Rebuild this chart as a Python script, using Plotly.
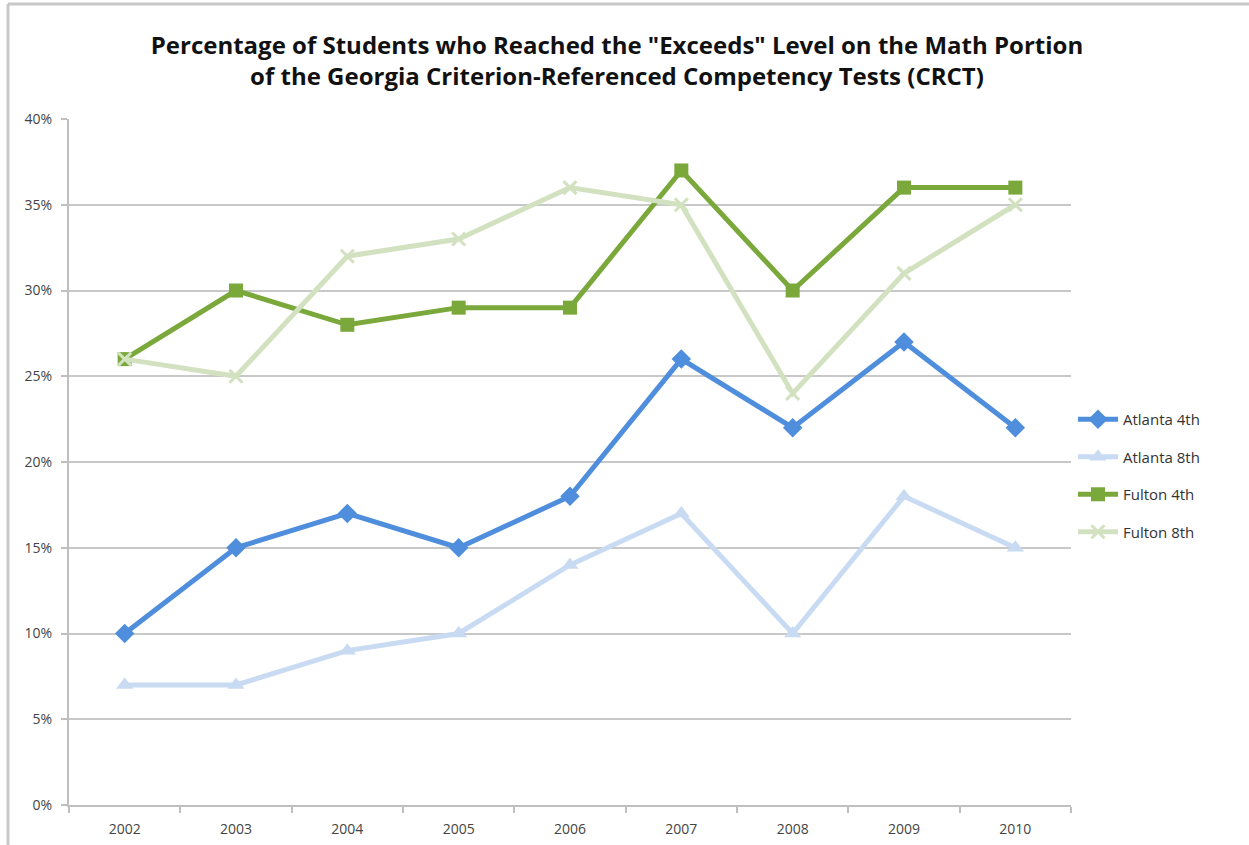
import plotly.graph_objects as go

years = ["2002", "2003", "2004", "2005", "2006", "2007", "2008", "2009", "2010"]
atlanta_4th = [0.10, 0.15, 0.17, 0.15, 0.18, 0.26, 0.22, 0.27, 0.22]
atlanta_8th = [0.07, 0.07, 0.09, 0.10, 0.14, 0.17, 0.10, 0.18, 0.15]
fulton_4th = [0.26, 0.30, 0.28, 0.29, 0.29, 0.37, 0.30, 0.36, 0.36]
fulton_8th = [0.26, 0.25, 0.32, 0.33, 0.36, 0.35, 0.24, 0.31, 0.35]

series = [
    ("Atlanta 4th", atlanta_4th, "#4f8edc", "diamond", 15),
    ("Atlanta 8th", atlanta_8th, "#c8dbf2", "triangle-up", 15),
    ("Fulton 4th", fulton_4th, "#7aa83b", "square", 14),
    ("Fulton 8th", fulton_8th, "#d2e1bf", "x-thin-open", 13),
]

fig = go.Figure()
for name, vals, color, sym, size in series:
    fig.add_trace(go.Scatter(
        x=years, y=vals, name=name, mode="lines+markers",
        line=dict(color=color, width=5),
        marker=dict(symbol=sym, size=size, color=color,
                    line=dict(color=color, width=3 if "x" in sym else 0)),
        legendgroup=name,
    ))

fig.update_layout(
    width=1249, height=845,
    paper_bgcolor="white", plot_bgcolor="white",
    margin=dict(l=69, r=178, t=119, b=40, autoexpand=False),
    title=dict(
        text="Percentage of Students who Reached the \"Exceeds\" Level on the Math Portion<br>of the Georgia Criterion-Referenced Competency Tests (CRCT)",
        x=0.494, xanchor="center", y=0.936, yanchor="top",
        font=dict(family="Open Sans", size=24, color="#111111", weight="bold"),
    ),
    font=dict(family="Open Sans", size=14, color="#444444"),
    legend=dict(
        x=1.002, xanchor="left", y=0.586, yanchor="top",
        font=dict(family="Open Sans", size=15, color="#333333"),
        tracegroupgap=15, traceorder="grouped", itemwidth=40,
        bgcolor="rgba(0,0,0,0)",
    ),
    showlegend=True,
)

fig.update_xaxes(
    type="category", range=[-0.5, 8.5], showgrid=False, automargin=False,
    showline=True, linecolor="#bfbfbf", linewidth=2,
    ticks="outside", tickson="boundaries", ticklen=6, tickcolor="#bfbfbf", tickwidth=2,
    tickfont=dict(size=14, color="#444444"), ticklabelstandoff=10,
)
fig.update_yaxes(
    range=[0, 0.4], dtick=0.05, tickformat=".0%", automargin=False,
    showgrid=True, gridcolor="#c8c8c8", gridwidth=2,
    showline=True, linecolor="#bfbfbf", linewidth=2,
    ticks="outside", ticklen=6, tickcolor="#bfbfbf", tickwidth=2,
    zeroline=False, tickfont=dict(size=14, color="#444444"), ticklabelstandoff=6,
)

# outer frame (picture border at left and top)
fig.add_shape(type="line", xref="paper", yref="paper", x0=-61/1002, x1=-61/1002,
              y0=-40/686, y1=(845-4-40)/686, line=dict(color="#c8c8c8", width=3))
fig.add_shape(type="line", xref="paper", yref="paper", x0=-61/1002, x1=1180/1002,
              y0=(845-4-40)/686, y1=(845-4-40)/686, line=dict(color="#c8c8c8", width=3))

fig.write_html("out.html")
